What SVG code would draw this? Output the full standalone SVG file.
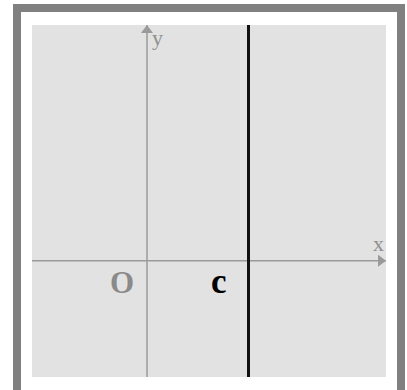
<svg xmlns="http://www.w3.org/2000/svg" width="407" height="390" viewBox="0 0 407 390">
<style>
.axis{stroke:#9a9a9a;stroke-width:1.5;fill:none}
.ax-label{font-family:"Liberation Serif",serif;fill:#8f8f8f;font-size:22px}
.big{font-family:"Liberation Serif",serif;font-weight:bold}
</style>
<defs>
<marker id="arr" viewBox="0 0 8 12" refX="8" refY="6" markerWidth="8" markerHeight="12" markerUnits="userSpaceOnUse" orient="auto">
<path d="M0,0 L8,6 L0,12 Z" fill="#9a9a9a"/>
</marker>
</defs>
<rect width="407" height="390" fill="#ffffff"/>
<rect id="frame" x="17" y="8" width="384" height="386" fill="#ffffff" stroke="#808080" stroke-width="8"/>
<rect id="panel" x="32" y="25" width="354" height="352" fill="#e2e2e2"/>
<g id="connectors">
<line class="axis" x1="32" y1="260.7" x2="386" y2="260.7" marker-end="url(#arr)"/>
<line class="axis" x1="147" y1="377" x2="147" y2="25" marker-end="url(#arr)"/>
<line x1="248.5" y1="25" x2="248.5" y2="377" stroke="#111111" stroke-width="3"/>
</g>
<g id="label-y"><text class="ax-label" x="152" y="45">y</text></g>
<g id="label-x"><text class="ax-label" x="373" y="251">x</text></g>
<g id="label-O"><text class="big" x="110" y="293" font-size="31" fill="#8a8a8a">O</text></g>
<g id="label-c"><text class="big" x="211" y="293" font-size="35" fill="#000000">c</text></g>
</svg>
